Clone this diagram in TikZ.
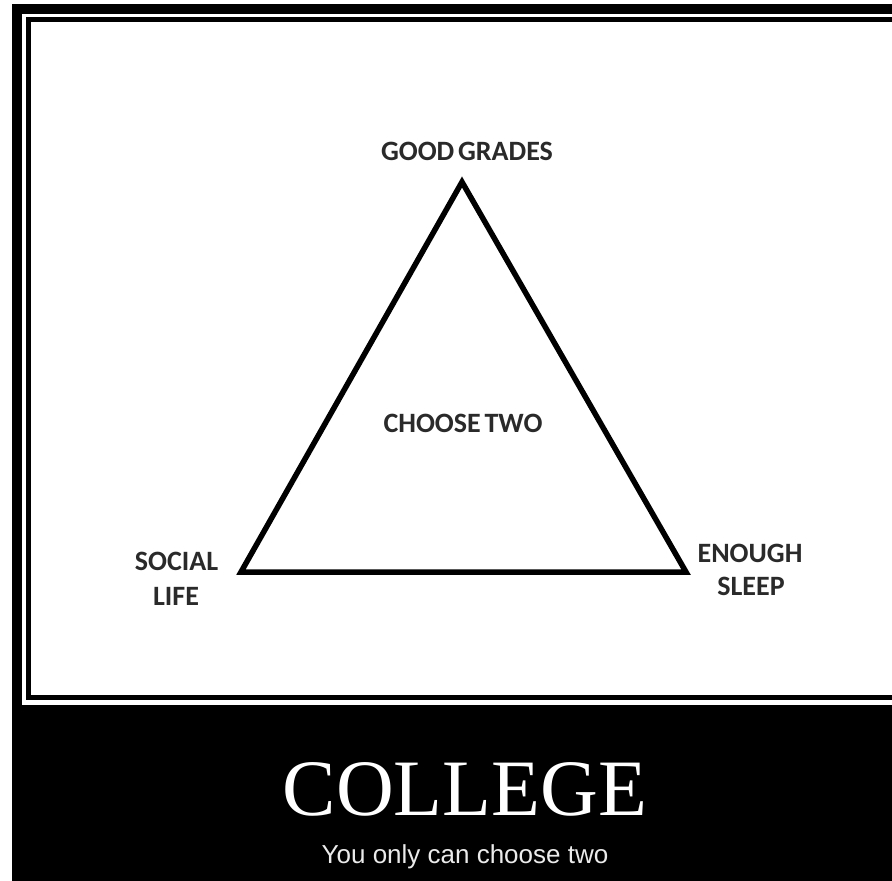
\documentclass[tikz,border=0pt]{standalone}
\usepackage{fontspec}
\setmainfont{Liberation Serif}
\newfontfamily\calib{Carlito}[WordSpace=0.6]
\newfontfamily\arialf{Liberation Sans}
\definecolor{labelgray}{HTML}{2A2A2A}
\tikzset{
  lbl/.style={anchor=base, inner sep=0pt, text=labelgray, font=\calib\bfseries\fontsize{28}{34}\selectfont},
  tri/.style={draw=black, line width=5.5pt, line join=miter},
}
\begin{document}
\begin{tikzpicture}[x=1pt, y=-1pt]
\useasboundingbox (0,0) rectangle (892,881);
\fill[white] (0,0) rectangle (892,881);
\begin{scope}
\clip (0,0) rectangle (892,881);
\fill[black] (12,4) rectangle (900,890);
\fill[white] (22,14) rectangle (900,704.5);
\fill[black] (26,17) rectangle (900,700);
\fill[white] (31,22) rectangle (900,695);
\end{scope}
% triangle
\coordinate (top) at (462,182);
\coordinate (bl) at (241,572);
\coordinate (br) at (686,572);
\draw[tri] (top) -- (br) -- (bl) -- cycle;
% labels
\node[lbl] (gg) at (467,160) {GOOD GRADES};
\node[lbl] (ct) at (463,432) {CHOOSE TWO};
\node[lbl] (soc) at (176.5,570) {SOCIAL};
\node[lbl] (life) at (176,605) {LIFE};
\node[lbl] (eno) at (750,562) {ENOUGH};
\node[lbl] (slp) at (751,595) {SLEEP};
% caption
\node[anchor=base, inner sep=0pt, text=white, font=\fontsize{80}{90}\selectfont] (col) at (465,815) {COLLEGE};
\node[anchor=base, inner sep=0pt, text=white!92!black, font=\arialf\fontsize{26}{30}\selectfont] (sub) at (465,863) {You only can choose two};
\end{tikzpicture}
\end{document}
